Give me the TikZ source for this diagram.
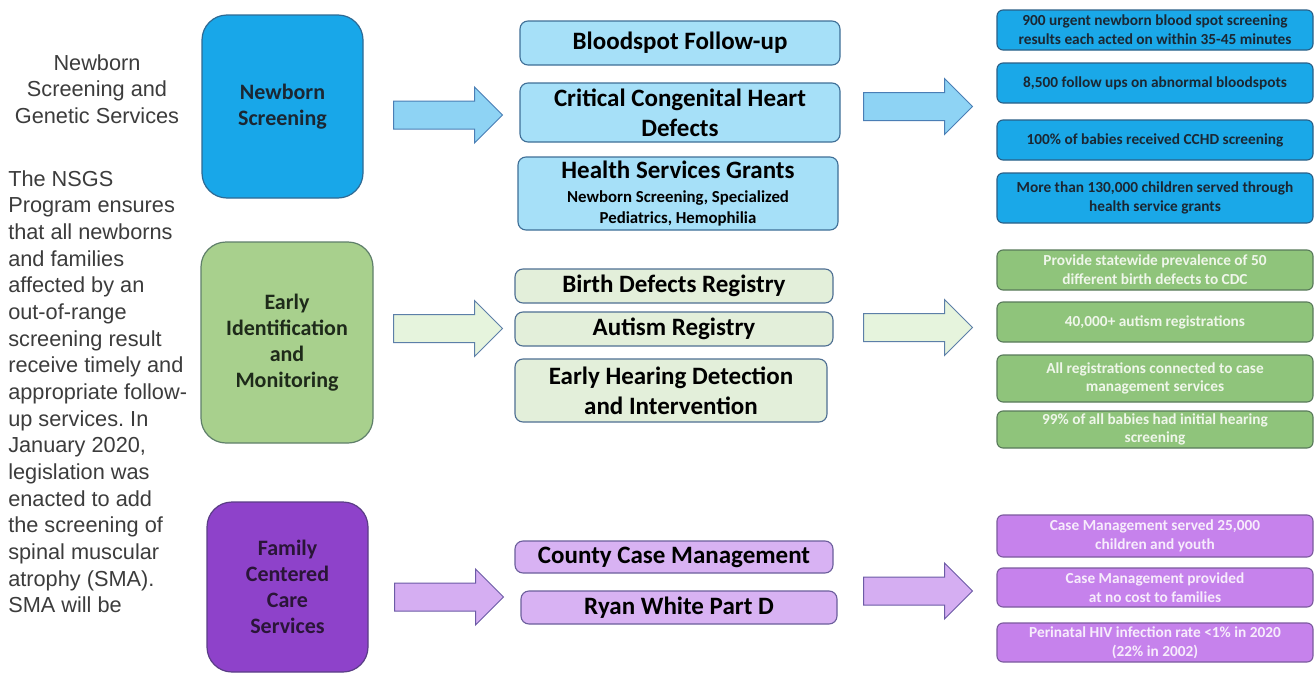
\documentclass[tikz,border=0pt]{standalone}
\usepackage{fontspec}
\setmainfont{Carlito}
\newfontfamily\arialfont{Liberation Sans}
\usetikzlibrary{shapes.arrows}
\frenchspacing

\newlength{\pix}
\setlength{\pix}{0.75pt}

\definecolor{sidegray}{HTML}{3C3C3C}
\definecolor{darktext}{HTML}{1B2733}
\definecolor{nsblue}{HTML}{18A7E9}
\definecolor{nsedge}{HTML}{2E6A94}
\definecolor{arrblue}{HTML}{8ED3F4}
\definecolor{arrblueedge}{HTML}{4A7EB5}
\definecolor{midblue}{HTML}{A6E0F8}
\definecolor{midblueedge}{HTML}{3F6F97}
\definecolor{resblue}{HTML}{1AA8E8}
\definecolor{resblueedge}{HTML}{2A5F86}
\definecolor{eimgreen}{HTML}{A8D08D}
\definecolor{eimedge}{HTML}{5F7F6A}
\definecolor{greentext}{HTML}{1E2A1A}
\definecolor{arrgreen}{HTML}{E6F4DD}
\definecolor{arrgreenedge}{HTML}{5C7FA8}
\definecolor{midgreen}{HTML}{E3EFDA}
\definecolor{midgreenedge}{HTML}{4E6F92}
\definecolor{resgreen}{HTML}{8FC47B}
\definecolor{resgreenedge}{HTML}{587A5A}
\definecolor{resgreentext}{HTML}{EFF6EA}
\definecolor{fccpurple}{HTML}{8E42CA}
\definecolor{fccedge}{HTML}{5A3D86}
\definecolor{purpletext}{HTML}{2A1538}
\definecolor{arrpurple}{HTML}{D5AEF2}
\definecolor{arrpurpleedge}{HTML}{6C5BA6}
\definecolor{midpurple}{HTML}{D8B2F3}
\definecolor{midpurpleedge}{HTML}{6B5E9C}
\definecolor{respurple}{HTML}{C682EC}
\definecolor{respurpleedge}{HTML}{7B5A9E}
\definecolor{respurpletext}{HTML}{F7ECFC}

\tikzset{
  sidetext/.style={inner sep=0pt, text=sidegray, font=\arialfont\fontsize{16.3}{20}\selectfont},
  bigbox/.style={draw, line width=1.2\pix, rounded corners=25\pix, inner sep=0pt, align=center,
    font=\bfseries\fontsize{16.5}{19.5}\selectfont},
  midbox/.style={draw, line width=1.1\pix, rounded corners=8\pix, inner sep=0pt, align=center,
    text=black, font=\bfseries\fontsize{18.75}{22.5}\selectfont},
  resbox/.style={draw, line width=1.1\pix, rounded corners=6\pix, inner sep=0pt, align=center,
    minimum width=316\pix, font=\bfseries\fontsize{11.5}{14}\selectfont},
  blockarrow/.style={single arrow, draw, line width=1\pix, anchor=tail, inner xsep=0pt,
    inner ysep=13.5\pix, single arrow head extend=14\pix, minimum height=109\pix}
}

\begin{document}
\begin{tikzpicture}[x=0.75pt,y=-0.75pt]
\path[use as bounding box, fill=white] (0,0) rectangle (1315,675);

\node[sidetext, align=center, anchor=north] (title) at (97,54) {Newborn\\Screening and\\Genetic Services};
\node[sidetext, align=left, anchor=north west] (blurb) at (8,170) {The NSGS\\Program ensures\\that all newborns\\and families\\affected by an\\out-of-range\\screening result\\receive timely and\\appropriate follow-\\up services. In\\January 2020,\\legislation was\\enacted to add\\the screening of\\spinal muscular\\atrophy (SMA).\\SMA will be};

% newborn screening row
\node[bigbox, fill=nsblue, draw=nsedge, text=darktext, minimum width=161\pix, minimum height=183\pix] (ns) at (282.5,106.5) {Newborn\\Screening};
\node[blockarrow, fill=arrblue, draw=arrblueedge] (nsin) at (393,115) {};
\node[midbox, fill=midblue, draw=midblueedge, minimum width=320\pix, minimum height=44\pix] (bsf) at (680,43) {Bloodspot Follow-up};
\node[midbox, fill=midblue, draw=midblueedge, minimum width=320\pix, minimum height=59\pix] (cchd) at (680,112.5) {Critical Congenital Heart\\Defects};
\node[midbox, fill=midblue, draw=midblueedge, minimum width=320\pix, minimum height=73\pix] (hsg) at (678,193.5) {Health Services Grants\\[-4pt]{\fontsize{12.6}{14.5}\selectfont Newborn Screening, Specialized}\\[-7pt]{\fontsize{12.6}{14.5}\selectfont Pediatrics, Hemophilia}};
\node[blockarrow, fill=arrblue, draw=arrblueedge] (nsout) at (863,106.5) {};
\node[resbox, fill=resblue, draw=resblueedge, text=darktext, minimum height=40\pix] (nsr1) at (1155,30) {900 urgent newborn blood spot screening\\results each acted on within 35-45 minutes};
\node[resbox, fill=resblue, draw=resblueedge, text=darktext, minimum height=40\pix] (nsr2) at (1155,83) {8,500 follow ups on abnormal bloodspots};
\node[resbox, fill=resblue, draw=resblueedge, text=darktext, minimum height=40\pix] (nsr3) at (1155,140) {100\% of babies received CCHD screening};
\node[resbox, fill=resblue, draw=resblueedge, text=darktext, minimum height=50\pix] (nsr4) at (1155,198) {More than 130,000 children served through\\health service grants};

% early identification row
\node[bigbox, fill=eimgreen, draw=eimedge, text=greentext, minimum width=172\pix, minimum height=201\pix] (eim) at (287,342.5) {Early\\Identification\\and\\Monitoring};
\node[blockarrow, fill=arrgreen, draw=arrgreenedge] (eimin) at (393,328.5) {};
\node[midbox, fill=midgreen, draw=midgreenedge, minimum width=318\pix, minimum height=34\pix] (bdr) at (674,286) {Birth Defects Registry};
\node[midbox, fill=midgreen, draw=midgreenedge, minimum width=318\pix, minimum height=34\pix] (ar) at (674,329) {Autism Registry};
\node[midbox, fill=midgreen, draw=midgreenedge, minimum width=312\pix, minimum height=63\pix] (ehdi) at (671,390.5) {Early Hearing Detection\\and Intervention};
\node[blockarrow, fill=arrgreen, draw=arrgreenedge] (eimout) at (863,327.5) {};
\node[resbox, fill=resgreen, draw=resgreenedge, text=resgreentext, minimum height=40\pix] (eimr1) at (1155,270) {Provide statewide prevalence of 50\\different birth defects to CDC};
\node[resbox, fill=resgreen, draw=resgreenedge, text=resgreentext, minimum height=40\pix] (eimr2) at (1155,322) {40,000+ autism registrations};
\node[resbox, fill=resgreen, draw=resgreenedge, text=resgreentext, minimum height=47\pix] (eimr3) at (1155,378.5) {All registrations connected to case\\management services};
\node[resbox, fill=resgreen, draw=resgreenedge, text=resgreentext, minimum height=37\pix] (eimr4) at (1155,429.5) {99\% of all babies had initial hearing\\screening};

% family centered care row
\node[bigbox, fill=fccpurple, draw=fccedge, text=purpletext, minimum width=161\pix, minimum height=170\pix] (fccs) at (287.5,587) {Family\\Centered\\Care\\Services};
\node[blockarrow, fill=arrpurple, draw=arrpurpleedge] (fccsin) at (394,597) {};
\node[midbox, fill=midpurple, draw=midpurpleedge, minimum width=318\pix, minimum height=32\pix] (ccm) at (674,557) {County Case Management};
\node[midbox, fill=midpurple, draw=midpurpleedge, minimum width=316\pix, minimum height=33\pix] (rw) at (679,607.5) {Ryan White Part D};
\node[blockarrow, fill=arrpurple, draw=arrpurpleedge] (fccsout) at (863,591) {};
\node[resbox, fill=respurple, draw=respurpleedge, text=respurpletext, minimum height=42\pix] (fccsr1) at (1155,536) {Case Management served 25,000\\children and youth};
\node[resbox, fill=respurple, draw=respurpleedge, text=respurpletext, minimum height=39\pix] (fccsr2) at (1155,587.5) {Case Management provided\\at no cost to families};
\node[resbox, fill=respurple, draw=respurpleedge, text=respurpletext, minimum height=39\pix] (fccsr3) at (1155,642.5) {Perinatal HIV infection rate <1\% in 2020\\(22\% in 2002)};
\end{tikzpicture}
\end{document}
